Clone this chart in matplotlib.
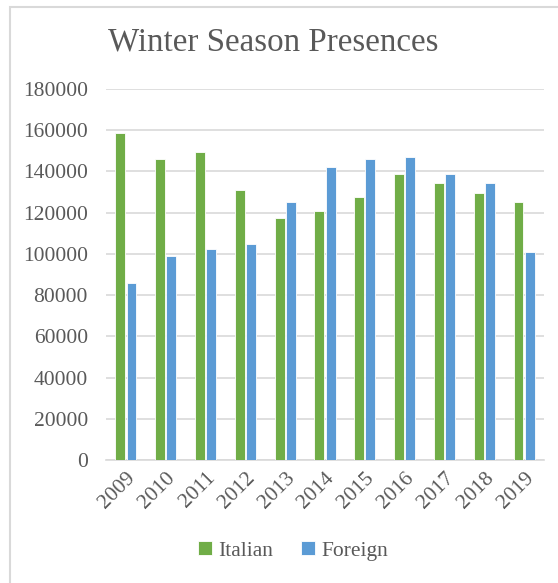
import matplotlib
matplotlib.use("Agg")
import matplotlib.pyplot as plt
import numpy as np
from matplotlib.patches import Rectangle

years = ["2009", "2010", "2011", "2012", "2013", "2014",
         "2015", "2016", "2017", "2018", "2019"]
italian = [158500, 145900, 149400, 131000, 117300, 120700,
           127500, 138800, 134200, 129700, 125200]
foreign = [85900, 99000, 102400, 104800, 125200, 142300,
           145900, 147000, 138800, 134200, 101100]

GREEN = "#70AD47"
BLUE = "#5B9BD5"
TEXT = "#595959"
GRID = "#D9D9D9"

plt.rcParams["font.family"] = ["Liberation Serif", "DejaVu Serif"]

W, H = 558, 583
fig = plt.figure(figsize=(W / 100, H / 100), dpi=100)
ax = fig.add_axes([106 / W, 1 - 460 / H, (544 - 106) / W, (460 - 89) / H])

x = np.arange(len(years))
bw = 0.25
ax.bar(x - 0.14, italian, bw, color=GREEN, edgecolor="white", linewidth=0.6,
       label="Italian", zorder=3)
ax.bar(x + 0.14, foreign, bw, color=BLUE, edgecolor="white", linewidth=0.6,
       label="Foreign", zorder=3)

ax.set_xlim(-0.5, len(years) - 0.5)
ax.set_ylim(0, 180000)
ax.set_yticks(range(0, 180001, 20000))
ax.yaxis.grid(True, color=GRID, linewidth=1.2, zorder=0)
for s in ["top", "right", "left"]:
    ax.spines[s].set_visible(False)
ax.spines["bottom"].set_color(GRID)
ax.spines["bottom"].set_linewidth(1.2)
ax.tick_params(axis="both", length=0, colors=TEXT, labelsize=15.5)
ax.tick_params(axis="y", pad=13)
ax.set_xticks(x)
ax.set_xticklabels(years, rotation=45, ha="right", rotation_mode="anchor")
ax.tick_params(axis="x", pad=6)

fig.text(273 / W, 1 - 42 / H, "Winter Season Presences", ha="center",
         va="center", fontsize=23.8, color=TEXT)

ax.legend(loc="center", bbox_to_anchor=(293 / W, 1 - 551 / H),
          bbox_transform=fig.transFigure, ncol=2, frameon=False,
          fontsize=15.5, labelcolor=TEXT, handlelength=0.65, handleheight=0.65,
          handletextpad=0.3, columnspacing=1.3)

# chart area frame
fig.patches.append(Rectangle((10 / W, -0.1), 1.2, 1 - 7 / H + 0.1,
                             transform=fig.transFigure, fill=False,
                             edgecolor="#D9D9D9", linewidth=1.5))

fig.savefig("out.png", dpi=100)
